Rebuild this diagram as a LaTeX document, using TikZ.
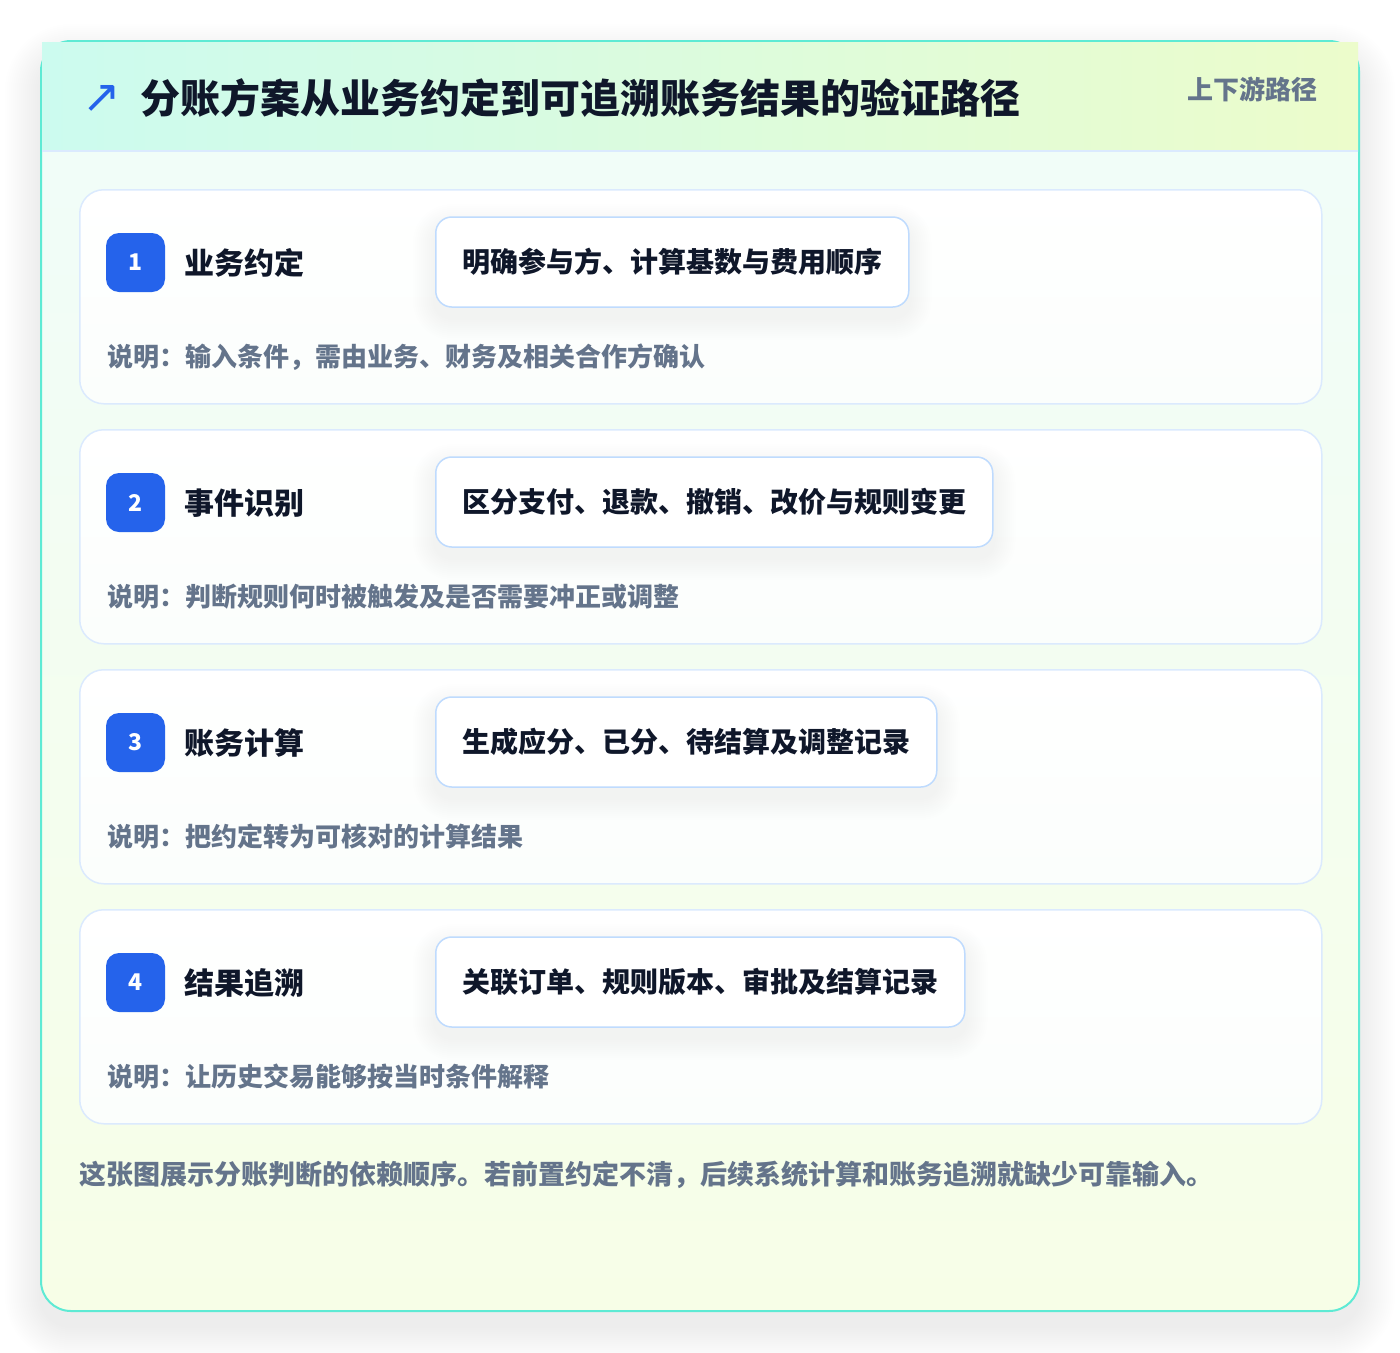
\documentclass[tikz,border=0pt]{standalone}
\usepackage{fontspec}
\setmainfont{Noto Sans CJK SC}
\newfontfamily\symfont{DejaVu Sans}
\usetikzlibrary{calc}
\definecolor{tealline}{HTML}{5EEAD4}
\definecolor{headL}{HTML}{CCFBEF}
\definecolor{headR}{HTML}{ECFCCB}
\definecolor{bodytop}{HTML}{F0FDFA}
\definecolor{bodybot}{HTML}{F7FEE7}
\definecolor{cardline}{HTML}{DBEAFE}
\definecolor{pillline}{HTML}{BFDBFE}
\definecolor{cardbot}{HTML}{FBFEFC}
\definecolor{badgeblue}{HTML}{2563EB}
\definecolor{ink}{HTML}{0F172A}
\definecolor{muted}{HTML}{64748B}
\newcommand{\fsz}[1]{\fontsize{#1}{#1}\selectfont\bfseries}
\pgfdeclarelayer{back}
\pgfdeclarelayer{mid}
\pgfsetlayers{back,mid,main}
\tikzset{
  stepcard/.style={draw=cardline, line width=1.5pt, rounded corners=24pt, top color=white, bottom color=cardbot,
    minimum width=1242pt, minimum height=214pt, anchor=north west, inner sep=0pt},
  badge/.style={fill=badgeblue, rounded corners=13pt, minimum size=59pt, inner sep=0pt, text=white, font=\fsz{23}},
  steplabel/.style={anchor=west, inner sep=0pt, text=ink, font=\fsz{30}},
  pill/.style={anchor=west, draw=pillline, line width=1.5pt, fill=white, rounded corners=16pt,
    minimum height=90pt, inner xsep=26.5pt, inner ysep=0pt, text=ink, font=\fsz{28}},
  desc/.style={anchor=west, inner sep=0pt, text=muted, font=\fsz{26}},
  softshade/.style={fill=black, opacity=0.0045},
}
\newcommand{\pillshadow}[1]{%
  \begin{pgfonlayer}{mid}
  \foreach \k in {1,...,11}{%
    \pgfmathsetmacro{\rr}{16+2*\k}%
    \fill[softshade, rounded corners=\rr pt] ($(#1.north west)+(-2*\k,10-2*\k)$) rectangle ($(#1.south east)+(2*\k,10+2*\k)$);
  }
  \end{pgfonlayer}}
\begin{document}
\begin{tikzpicture}[x=1pt,y=-1pt]
\useasboundingbox (0,0) rectangle (1400,1352);
\begin{pgfonlayer}{back}
\fill[white] (0,0) rectangle (1400,1352);
% outer card shadow
\foreach \k in {1,...,18}{%
  \pgfmathsetmacro{\rr}{30+2*\k}%
  \fill[fill=black, opacity=0.0055, rounded corners=\rr pt] (41-2*\k,60-2*\k) rectangle (1359+2*\k,1326+2*\k);
}
\path[rounded corners=30pt, top color=bodytop, bottom color=bodybot] (41,41) rectangle (1359,1311);
\draw[tealline, line width=2pt, rounded corners=30pt] (41,41) rectangle (1359,1311);
\path[left color=headL, right color=headR] (42,42) rectangle (1358,151);
\draw[cardline, line width=1.5pt] (42,151) -- (1358,151);
% cards
\node[stepcard] (c1) at (79,189) {};
\node[stepcard] (c2) at (79,429) {};
\node[stepcard] (c3) at (79,669) {};
\node[stepcard] (c4) at (79,909) {};
\end{pgfonlayer}
% header texts
\node[inner sep=0pt, text=badgeblue, font=\symfont\fontsize{46}{46}\selectfont] (icon) at (102,99) {↗};
\node[anchor=west, inner sep=0pt, text=ink, font=\fsz{40}] (title) at (140,98) {分账方案从业务约定到可追溯账务结果的验证路径};
\node[anchor=east, inner sep=0pt, text=muted, font=\fsz{26}] (tag) at (1318,89) {上下游路径};
% step 1
\node[badge] (b1) at (135.5,262.5) {1};
\node[steplabel] (l1) at (184,263) {业务约定};
\node[pill] (p1) at (435,262) {明确参与方、计算基数与费用顺序};
\pillshadow{p1}
\node[desc] (d1) at (107,357) {说明：输入条件，需由业务、财务及相关合作方确认};
% step 2
\node[badge] (b2) at (135.5,502.5) {2};
\node[steplabel] (l2) at (184,503) {事件识别};
\node[pill] (p2) at (435,502) {区分支付、退款、撤销、改价与规则变更};
\pillshadow{p2}
\node[desc] (d2) at (107,597) {说明：判断规则何时被触发及是否需要冲正或调整};
% step 3
\node[badge] (b3) at (135.5,742.5) {3};
\node[steplabel] (l3) at (184,743) {账务计算};
\node[pill] (p3) at (435,742) {生成应分、已分、待结算及调整记录};
\pillshadow{p3}
\node[desc] (d3) at (107,837) {说明：把约定转为可核对的计算结果};
% step 4
\node[badge] (b4) at (135.5,982.5) {4};
\node[steplabel] (l4) at (184,983) {结果追溯};
\node[pill] (p4) at (435,982) {关联订单、规则版本、审批及结算记录};
\pillshadow{p4}
\node[desc] (d4) at (107,1077) {说明：让历史交易能够按当时条件解释};
% footer
\node[anchor=west, inner sep=0pt, text=muted, font=\fsz{27}] (foot) at (79,1175) {这张图展示分账判断的依赖顺序。若前置约定不清，后续系统计算和账务追溯就缺少可靠输入。};
\end{tikzpicture}
\end{document}
